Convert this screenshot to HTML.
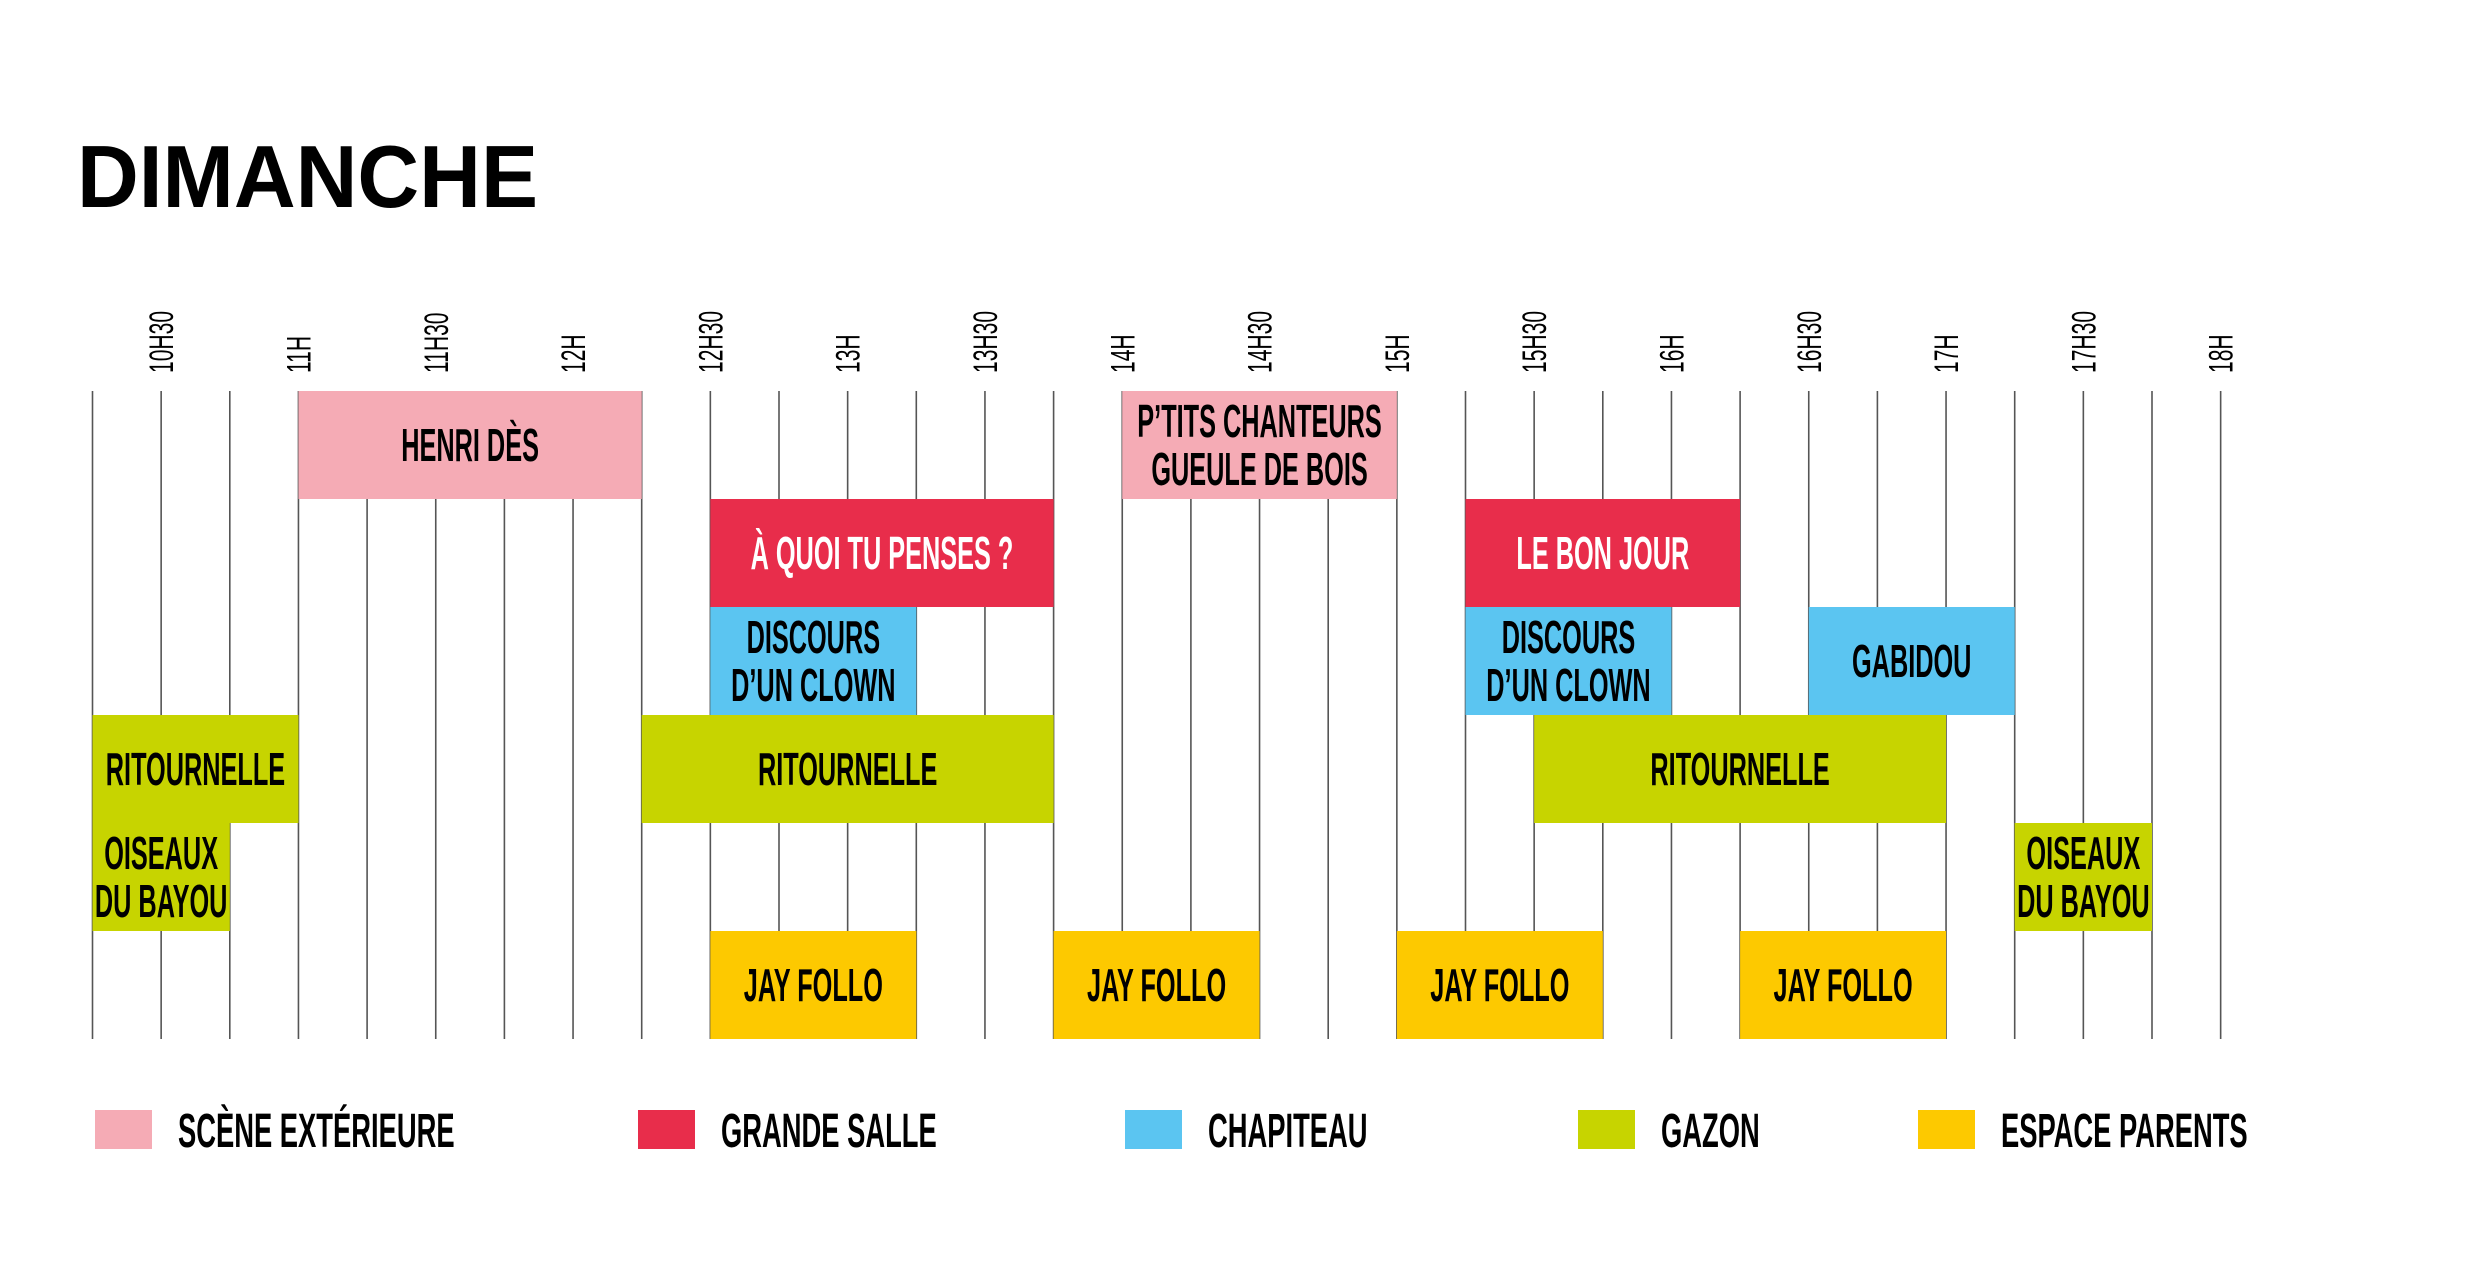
<!DOCTYPE html>
<html><head><meta charset="utf-8"><style>
html,body{margin:0;padding:0;background:#fff;}
svg{display:block;}
</style></head><body>
<svg id="chart" width="2480" height="1264" viewBox="0 0 2480 1264" xmlns="http://www.w3.org/2000/svg">
<rect x="0" y="0" width="2480" height="1264" fill="#fff"/>
<text x="77" y="207" font-family="Liberation Sans, sans-serif" font-weight="bold" font-size="88" textLength="461" lengthAdjust="spacingAndGlyphs" fill="#000">DIMANCHE</text>
<g id="grid"></g>
<g id="boxes"></g>
<g id="ticks"></g>
<g id="legend"></g>
</svg>
<script>
const tickTimes = [10.5,11,11.5,12,12.5,13,13.5,14,14.5,15,15.5,16,16.5,17,17.5,18];
const tickLabels = ["10H30","11H","11H30","12H","12H30","13H","13H30","14H","14H30","15H","15H30","16H","16H30","17H","17H30","18H"];
const venues = ["SCÈNE EXTÉRIEURE","GRANDE SALLE","CHAPITEAU","GAZON","ESPACE PARENTS"];
const venueColors = ["#f5abb5","#e82d4b","#5bc5f1","#c7d400","#fdc900"];
const eventNames = ["HENRI DÈS","P’TITS CHANTEURS|GUEULE DE BOIS","À QUOI TU PENSES ?","LE BON JOUR","DISCOURS|D’UN CLOWN","DISCOURS|D’UN CLOWN","GABIDOU","RITOURNELLE","RITOURNELLE","RITOURNELLE","OISEAUX|DU BAYOU","OISEAUX|DU BAYOU","JAY FOLLO","JAY FOLLO","JAY FOLLO","JAY FOLLO"];
const eventStart = [11,14,12.5,15.25,12.5,15.25,16.5,10.25,12.25,15.5,10.25,17.25,12.5,13.75,15,16.25];
const eventEnd = [12.25,15,13.75,16.25,13.25,16,17.25,11,13.75,17,10.75,17.75,13.25,14.5,15.75,17];
const eventRow = [0,0,1,1,2,2,2,3,3,3,4,4,5,5,5,5];
const eventVenue = [0,0,1,1,2,2,2,3,3,3,3,3,4,4,4,4];

const T0=10.25, T1=18, X0=92.5, PXH=274.6;
const Y0=391, ROWH=108, NROWS=6;
function xScale(t){return X0+(t-T0)*PXH;}
function yRow(r){return Y0+r*ROWH;}
const NS="http://www.w3.org/2000/svg";
function mk(tag,attrs,parent){const e=document.createElementNS(NS,tag);for(const k in attrs)e.setAttribute(k,attrs[k]);parent.appendChild(e);return e;}

const grid=document.getElementById('grid');
for(let t=T0;t<=T1+1e-6;t+=0.25){
  const l=mk('line',{x1:xScale(t),x2:xScale(t),y1:Y0,y2:yRow(NROWS),stroke:'#555','stroke-width':1.6},grid);
  
  
}
const ticks=document.getElementById('ticks');
tickTimes.forEach((t,i)=>{
  const x=xScale(t)+12;
  const tx=mk('text',{transform:`translate(${x},373) rotate(-90) scale(0.62,1)`,'font-family':'Liberation Sans, sans-serif','font-size':34,fill:'#000'},ticks);
  tx.textContent=tickLabels[i];
  
  
});
const boxes=document.getElementById('boxes');
eventNames.forEach((name,i)=>{
  const x1=xScale(eventStart[i]), x2=xScale(eventEnd[i]), y=yRow(eventRow[i]);
  const g=mk('g',{},boxes);
  
  
  mk('rect',{x:x1,y:y,width:x2-x1,height:ROWH,fill:venueColors[eventVenue[i]]},g);
  const lines=name.split('|');
  const cx=(x1+x2)/2, cy=y+ROWH/2;
  const col=eventVenue[i]===1?'#fff':'#000';
  lines.forEach((ln,j)=>{
    const by=cy+16+(j-(lines.length-1)/2)*48;
    const tx=mk('text',{transform:`translate(${cx},${by}) scale(0.55,1)`,'text-anchor':'middle','font-family':'Liberation Sans, sans-serif','font-weight':'bold','font-size':46,fill:col},g);
    tx.textContent=ln;
    
    
  });
});
const legend=document.getElementById('legend');
const legSq=[95,638,1125,1578,1918];
venues.forEach((v,i)=>{
  const g=mk('g',{},legend);
  
  
  mk('rect',{x:legSq[i],y:1110,width:57,height:39,fill:venueColors[i]},g);
  const tx=mk('text',{transform:`translate(${legSq[i]+83},1147) scale(0.57,1)`,'font-family':'Liberation Sans, sans-serif','font-weight':'bold','font-size':48,fill:'#000'},g);
  tx.textContent=v;
  
  
});
</script>
</body></html>
